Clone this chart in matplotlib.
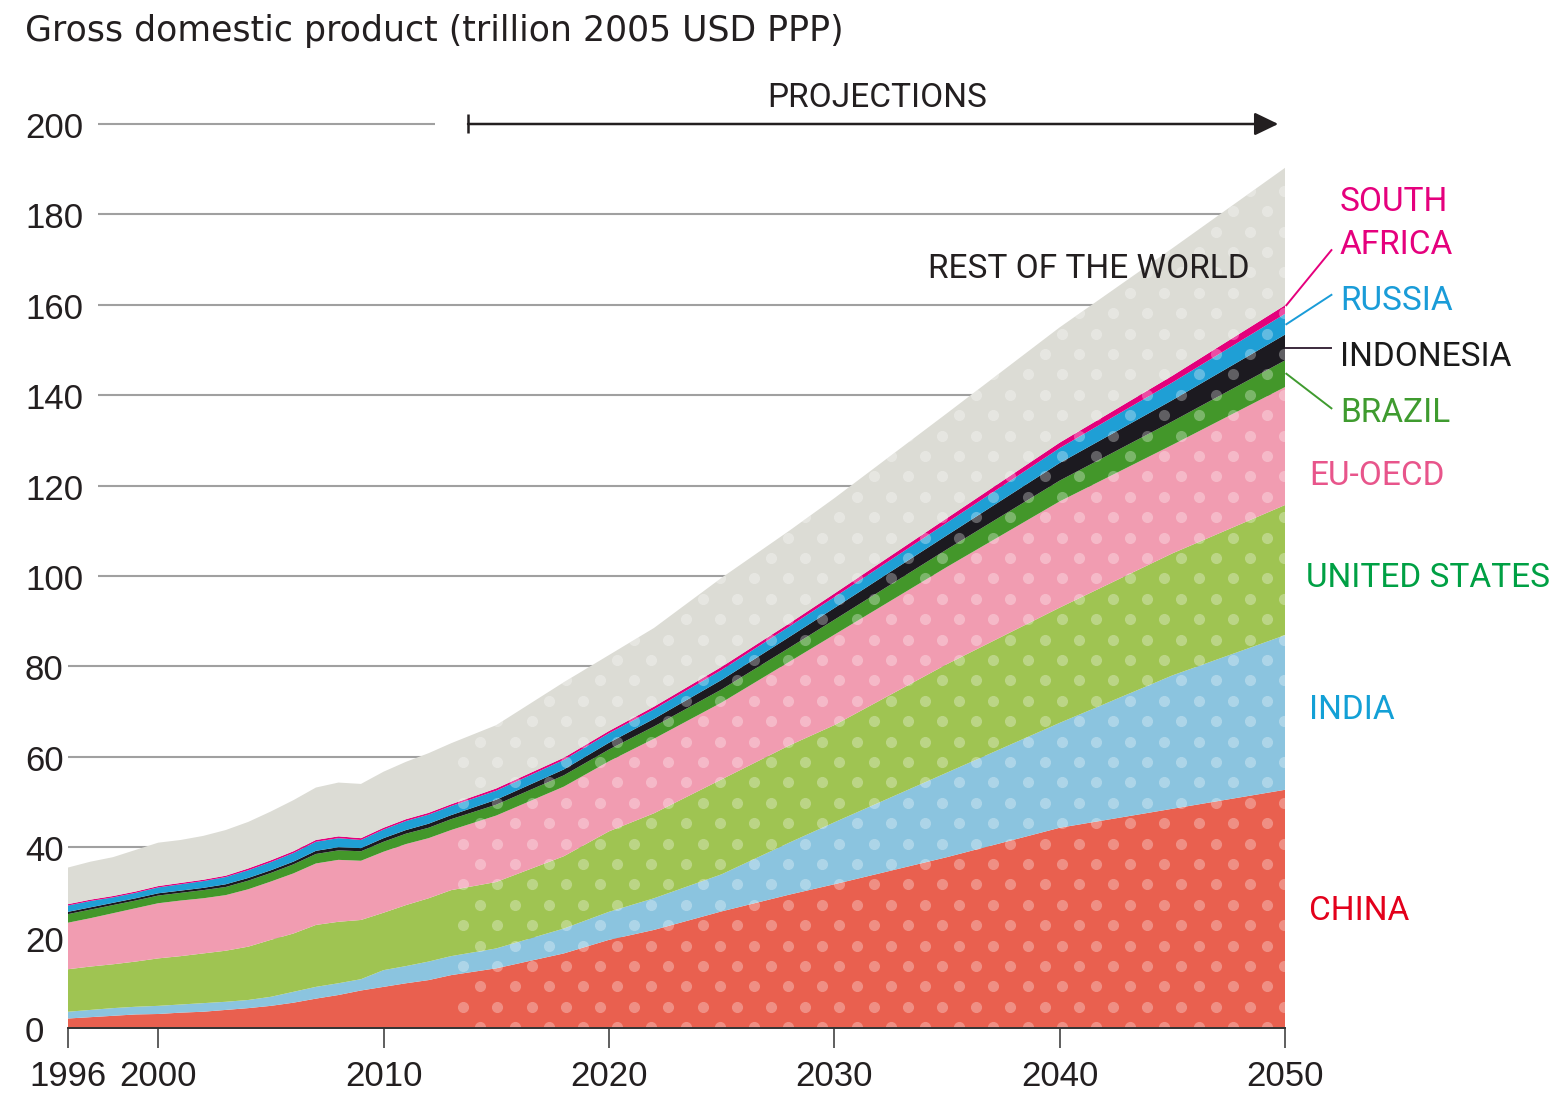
import matplotlib
matplotlib.use("Agg")
import matplotlib.pyplot as plt
import numpy as np
from matplotlib import font_manager, transforms
from matplotlib.patches import Polygon

# GDP by region, trillion 2005 USD PPP (history to 2013, projections after)
years = [1996, 1997, 1998, 1999, 2000, 2001, 2002, 2003, 2004, 2005, 2006,
         2007, 2008, 2009, 2010, 2011, 2012, 2013,
         2015, 2018, 2020, 2022, 2025, 2028, 2030, 2035, 2040, 2045, 2050]

china = [2.1, 2.4, 2.7, 3.0, 3.1, 3.4, 3.6, 4.0, 4.4, 4.9, 5.6,
         6.5, 7.3, 8.3, 9.1, 9.9, 10.6, 11.7,
         13.2, 16.5, 19.5, 21.7, 25.8, 29.5, 31.8, 37.8, 44.3, 48.5, 52.7]
india = [1.5, 1.6, 1.7, 1.7, 1.8, 1.8, 1.9, 1.8, 1.8, 2.0, 2.4,
         2.6, 2.6, 2.5, 3.7, 3.8, 4.1, 4.2,
         4.4, 5.5, 6.2, 7.0, 8.2, 11.5, 13.7, 18.7, 23.2, 29.5, 34.2]
united_states = [9.4, 9.6, 9.7, 10.0, 10.5, 10.7, 11.0, 11.3, 11.8, 12.6, 12.9,
                 13.7, 13.6, 13.1, 12.7, 13.5, 14.0, 14.6,
                 14.7, 16.0, 17.8, 18.8, 21.0, 21.5, 21.5, 24.0, 25.5, 27.0, 28.8]
eu_oecd = [10.3, 10.7, 11.3, 11.8, 12.2, 12.3, 12.2, 12.3, 12.7, 12.9, 13.3,
           13.6, 13.7, 13.1, 13.5, 13.5, 13.3, 13.3,
           14.7, 15.4, 15.5, 16.5, 17.0, 18.5, 20.0, 21.5, 23.5, 24.0, 26.1]
brazil = [1.9, 1.9, 1.8, 1.7, 1.7, 1.7, 1.8, 1.8, 1.9, 1.9, 2.0,
          2.1, 2.1, 2.1, 2.2, 2.3, 2.3, 2.4,
          2.4, 2.5, 2.6, 2.7, 2.9, 3.1, 3.3, 3.9, 4.6, 5.2, 5.9]
indonesia = [0.5, 0.5, 0.5, 0.5, 0.5, 0.5, 0.5, 0.6, 0.6, 0.6, 0.6,
             0.7, 0.7, 0.7, 0.8, 0.8, 0.9, 0.9,
             1.1, 1.3, 1.5, 1.7, 2.1, 2.4, 2.6, 3.1, 3.9, 4.7, 5.7]
russia = [1.4, 1.4, 1.2, 1.2, 1.3, 1.4, 1.5, 1.6, 1.7, 1.8, 1.9,
          2.0, 2.0, 1.8, 1.9, 2.0, 2.0, 2.0,
          2.0, 2.1, 2.1, 2.1, 2.2, 2.3, 2.4, 2.8, 3.3, 3.9, 4.6]
south_africa = [0.3, 0.3, 0.3, 0.3, 0.3, 0.3, 0.3, 0.3, 0.4, 0.4, 0.4,
                0.4, 0.4, 0.4, 0.4, 0.4, 0.4, 0.4,
                0.5, 0.5, 0.5, 0.6, 0.7, 0.7, 0.8, 1.0, 1.2, 1.5, 1.9]
rest_of_world = [8.1, 8.4, 8.6, 9.2, 9.6, 9.5, 9.7, 10.1, 10.3, 10.8, 11.3,
                 11.6, 11.9, 12.0, 12.4, 12.7, 13.2, 13.5,
                 14.0, 16.7, 16.8, 17.4, 19.7, 20.5, 21.1, 23.2, 25.5, 28.2, 30.4]

series = [china, india, united_states, eu_oecd, brazil, indonesia, russia,
          south_africa, rest_of_world]
fills = ["#e9604f", "#8bc4df", "#9fc452", "#f19cb1", "#43972a", "#1c1a20",
         "#1f9fd5", "#e4007c", "#dcdcd5"]

y_ticks = [0, 20, 40, 60, 80, 100, 120, 140, 160, 180, 200]
x_ticks = [1996, 2000, 2010, 2020, 2030, 2040, 2050]
projection_start = 2013.75


def pick_font(*names):
    for name in names:
        try:
            font_manager.findfont(name, fallback_to_default=False)
            return name
        except ValueError:
            pass
    return "DejaVu Sans"


NARROW = pick_font("Liberation Sans Narrow", "Roboto", "DejaVu Sans")
DIGITS = pick_font("Liberation Sans", "Arial", "DejaVu Sans")
LABEL_SIZE = 26 if NARROW == "Liberation Sans Narrow" else 24
DARK = "#231f20"

fig = plt.figure(figsize=(15.49, 10.95), dpi=100)
ax = fig.add_axes([68 / 1549, 67 / 1095, 1217 / 1549, 904 / 1095])
ax.set_xlim(1996, 2050)
ax.set_ylim(0, 200)

# gridlines sit behind the areas; 3-digit labels push the line start right
for v in y_ticks[1:]:
    x0 = 1996 if v < 100 else 1997.33
    x1 = 2012.28 if v == 200 else 2050
    ax.plot([x0, x1], [v, v], color="#a0a0a0", lw=1.5, zorder=1,
            solid_capstyle="butt", clip_on=False)

ax.stackplot(years, *series, colors=fills, linewidth=0.3, zorder=2)

# white dot texture over the projection period, clipped to the stacked area
total = np.sum(np.array(series), axis=0)
outline = Polygon(list(zip(years, total)) + [(2050, 0), (1996, 0)],
                  closed=True, transform=ax.transData, fc="none", ec="none")
ax.add_patch(outline)
dx, dy = 0.7587, 4.513
dot_x, dot_y = [], []
for j in range(-1, 44):
    for k in range(0, 60):
        x = projection_start - 0.21 + k * dx
        if x > 2050.4:
            break
        if (j + k) % 2 == 0:
            dot_x.append(x)
            dot_y.append(4.71 + j * dy)
dots = ax.scatter(dot_x, dot_y, s=64, c="white", alpha=0.3, linewidths=0,
                  zorder=3)
dots.set_clip_path(outline)

# axes styling
for side in ["top", "right", "left"]:
    ax.spines[side].set_visible(False)
ax.spines["bottom"].set_color("#333333")
ax.spines["bottom"].set_linewidth(1.4)
ax.spines["bottom"].set_zorder(4)
ax.set_xticks(x_ticks)
ax.set_xticklabels([str(t) for t in x_ticks])
ax.tick_params(axis="x", direction="out", length=14.5, width=1.1,
               color="#333333", pad=8.5, labelsize=25, labelcolor=DARK,
               labelfontfamily=DIGITS)
ax.set_yticks([])

ylab = transforms.offset_copy(
    transforms.blended_transform_factory(fig.transFigure, ax.transData),
    fig=fig, x=0, y=-14, units="dots")
for v in y_ticks:
    ax.text(25 / 1549, v, str(v), transform=ylab, ha="left", va="baseline",
            fontsize=25, color=DARK, family=DIGITS, clip_on=False)

fig.text(25 / 1549, 1 - 41 / 1095,
         "Gross domestic product (trillion 2005 USD PPP)",
         ha="left", va="baseline", fontsize=25, color=DARK,
         family="DejaVu Sans")

# projections marker
ax.annotate("", xy=(2049.7, 200), xytext=(projection_start, 200),
            arrowprops=dict(arrowstyle="-|>,head_length=1.45,head_width=0.7",
                            color=DARK, lw=1.8, shrinkA=0, shrinkB=0,
                            mutation_scale=10),
            annotation_clip=False)
ax.plot([projection_start] * 2, [197.9, 202.2], color=DARK, lw=1.8,
        clip_on=False, solid_capstyle="butt")
ax.text(2031.9, 203.8, "PROJECTIONS", ha="center", va="baseline",
        fontsize=LABEL_SIZE, color=DARK, family=NARROW, clip_on=False)

ax.text(2034.15, 165.9, "REST OF THE WORLD", ha="left", va="baseline",
        fontsize=LABEL_SIZE, color=DARK, family=NARROW, zorder=5)

# region labels on the right
labels = [
    ("SOUTH", 2052.43, 180.7, "#e5007d"),
    ("AFRICA", 2052.43, 171.2, "#e5007d"),
    ("RUSSIA", 2052.43, 158.85, "#1a9cd8"),
    ("INDONESIA", 2052.43, 146.5, "#1a1a1a"),
    ("BRAZIL", 2052.43, 134.1, "#3f9b2f"),
    ("EU-OECD", 2051.06, 120.1, "#e8558b"),
    ("UNITED STATES", 2050.92, 97.5, "#00a044"),
    ("INDIA", 2051.06, 68.4, "#13a0d6"),
    ("CHINA", 2051.06, 23.8, "#e3001b"),
]
for text, x, y, color in labels:
    ax.text(x, y, text, ha="left", va="baseline", fontsize=LABEL_SIZE,
            color=color, family=NARROW, clip_on=False)

# leader lines from the thin bands at 2050 to their labels
tops = np.cumsum(np.array(series)[:, -1])
mid = lambda i: tops[i] - np.array(series)[i, -1] / 2
leaders = [
    (tops[7], 172.1, "#e5007d"),
    (mid(6), 162.2, "#1a9cd8"),
    (mid(5), mid(5), "#3b2a3c"),
    (mid(4), 137.1, "#3f9b2f"),
]
for y0, y1, color in leaders:
    ax.plot([2050.06, 2052.06], [y0, y1], color=color, lw=1.4,
            clip_on=False, zorder=5)

fig.savefig("out.png", dpi=100)
